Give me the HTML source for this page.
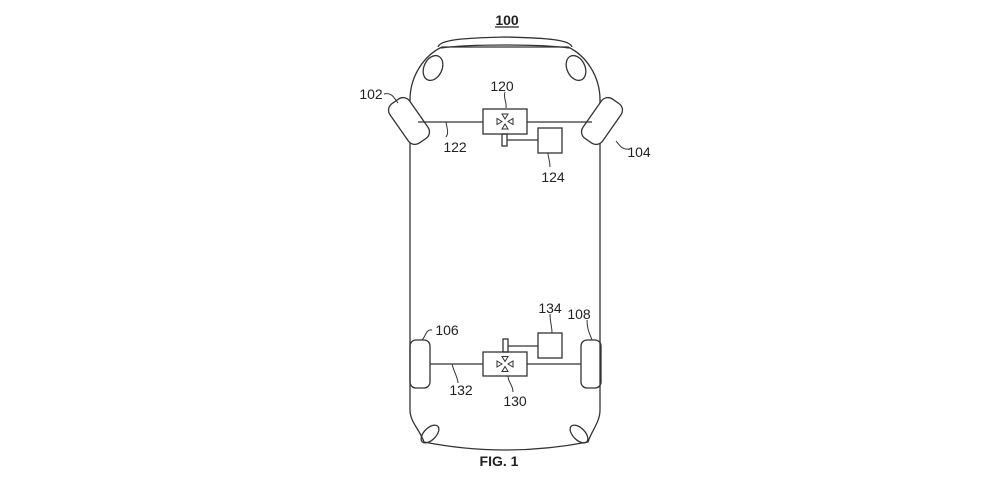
<!DOCTYPE html>
<html><head><meta charset="utf-8"><style>
html,body{margin:0;padding:0;background:#fff;}
svg{display:block}
text{font-family:"Liberation Sans",sans-serif;font-size:14px;fill:#222}
</style></head><body>
<svg width="1000" height="500" viewBox="0 0 1000 500" xmlns="http://www.w3.org/2000/svg">
<g fill="none" stroke="#333" stroke-width="1.3">
<path d="M410,110 L410,100 C410,75 425,55 442,47 L568,47 C585,55 600,75 600,100 L600,410 C600,422 592,430 588,442 Q505,458 424,442 C420,430 410,422 410,410 Z"/>
<path d="M438,47 C440,40 460,38 505,37 C550,38 570,40 572,47"/>
<path d="M441,48 C470,44 540,44 569,48"/>
<ellipse cx="433" cy="68" rx="9" ry="13" transform="rotate(25 433 68)"/>
<ellipse cx="576" cy="68" rx="9" ry="13" transform="rotate(-25 576 68)"/>
<ellipse cx="430" cy="434" rx="6" ry="11" transform="rotate(45 430 434)"/>
<ellipse cx="579" cy="434" rx="6" ry="11" transform="rotate(-45 579 434)"/>
<rect x="397" y="97" width="24" height="48" rx="8" transform="rotate(-35 409 121)" fill="#fff"/>
<rect x="590" y="97" width="24" height="48" rx="8" transform="rotate(35 602 121)" fill="#fff"/>
<line x1="418" y1="122" x2="483" y2="122"/>
<line x1="527" y1="122" x2="592" y2="122"/>
<rect x="483" y="109" width="44" height="25"/>
<rect x="502" y="134" width="5" height="12"/>
<line x1="507" y1="140" x2="538" y2="140"/>
<rect x="538" y="128" width="24" height="25"/>
<rect x="410" y="340" width="20" height="48" rx="6"/>
<rect x="581" y="340" width="20" height="48" rx="6"/>
<line x1="430" y1="364" x2="483" y2="364"/>
<line x1="527" y1="364" x2="581" y2="364"/>
<rect x="483" y="352" width="44" height="24"/>
<rect x="503" y="339" width="5" height="13"/>
<line x1="508" y1="346" x2="538" y2="346"/>
<rect x="538" y="333" width="24" height="25"/>
<g stroke-width="1">
<path d="M505,119 l-3,-5 h6 z M505,124 l-3,5 h6 z M502,121.5 l-5,-3 v6 z M508,121.5 l5,-3 v6 z"/>
<path d="M505,361.5 l-3,-5 h6 z M505,366.5 l-3,5 h6 z M502,364 l-5,-3 v6 z M508,364 l5,-3 v6 z"/>
</g>
<g stroke-width="1">
<path d="M384,94 C392,92 394,98 398,103"/>
<path d="M505,92 C503,98 507,102 506,108"/>
<path d="M446,137 C449,133 447,128 446,122"/>
<path d="M550,167 C550,160 548,158 548,153"/>
<path d="M630,149 C622,150 620,146 616,141"/>
<path d="M432,330 C426,329 426,336 422,340"/>
<path d="M587,320 C587,330 590,334 592,340"/>
<path d="M550,314 C550,322 552,326 552,333"/>
<path d="M458,383 C458,378 454,372 452,364"/>
<path d="M513,392 C513,385 508,382 508,376"/>
</g>
</g>
<text x="507" y="25" text-anchor="middle" font-weight="bold">100</text>
<line x1="495" y1="27" x2="519" y2="27" stroke="#222" stroke-width="1.2"/>
<text x="371" y="99" text-anchor="middle">102</text>
<text x="502" y="91" text-anchor="middle">120</text>
<text x="455" y="152" text-anchor="middle">122</text>
<text x="553" y="182" text-anchor="middle">124</text>
<text x="639" y="157" text-anchor="middle">104</text>
<text x="447" y="335" text-anchor="middle">106</text>
<text x="579" y="319" text-anchor="middle">108</text>
<text x="550" y="313" text-anchor="middle">134</text>
<text x="461" y="395" text-anchor="middle">132</text>
<text x="515" y="406" text-anchor="middle">130</text>
<text x="499" y="466" text-anchor="middle" font-weight="bold">FIG. 1</text>
</svg>
</body></html>
